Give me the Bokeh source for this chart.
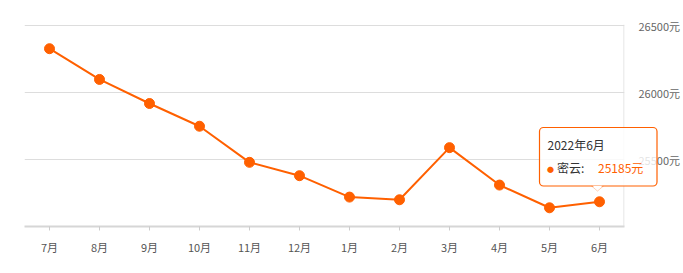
from bokeh.plotting import figure
from bokeh.layouts import column
from bokeh.models import (FactorRange, Range1d, FixedTicker, PrintfTickFormatter,
                          Span, PolyAnnotation, BoxAnnotation, Label)
from bokeh.embed import file_html
from bokeh.resources import INLINE

months = ["7月", "8月", "9月", "10月", "11月", "12月", "1月", "2月", "3月", "4月", "5月", "6月"]
prices = [26330, 26100, 25920, 25750, 25480, 25380, 25220, 25200, 25590, 25310, 25140, 25185]
y_ticks = [25500, 26000, 26500]
tip_title = "2022年6月"
tip_name = "密云:"
tip_value = "25185元"

ORANGE = "#ff6000"
FONT = "Noto Sans CJK SC"
W, H = 683, 273

p = figure(width=W, height=H, x_range=FactorRange(*months, range_padding=0),
           y_range=Range1d(25000, 26511), output_backend="svg", toolbar_location=None,
           y_axis_location="right", min_border_left=24, min_border_right=59,
           min_border_top=24, min_border_bottom=47)
p.frame_align = False
p.outline_line_color = None
p.background_fill_color = "white"

p.xgrid.grid_line_color = None
p.ygrid.ticker = FixedTicker(ticks=y_ticks)
p.ygrid.grid_line_color = "#dddddd"
p.ygrid.grid_line_width = 1

p.yaxis.ticker = FixedTicker(ticks=y_ticks)
p.yaxis.formatter = PrintfTickFormatter(format="%d元")
p.yaxis.axis_line_color = None
p.yaxis.major_tick_line_color = None
p.yaxis.minor_tick_line_color = None
p.yaxis.major_label_text_color = "#666666"
p.yaxis.major_label_text_font = FONT
p.yaxis.major_label_text_font_size = "11px"
p.yaxis.major_label_standoff = 8

p.xaxis.axis_line_color = "#d6d6d6"
p.xaxis.axis_line_width = 2
p.xaxis.major_tick_line_color = "#cccccc"
p.xaxis.major_tick_out = 4
p.xaxis.major_tick_in = 0
p.xaxis.major_label_text_color = "#555555"
p.xaxis.major_label_text_font = FONT
p.xaxis.major_label_text_font_size = "11px"
p.xaxis.major_label_standoff = 8

# right border
p.add_layout(Span(location=len(months) - 0.01, dimension="height", line_color="#dddddd", line_width=1))

p.line(months, prices, line_color=ORANGE, line_width=2)
p.scatter(months, prices, size=10, fill_color=ORANGE, line_color=ORANGE)

# tooltip: a transparent full-size overlay figure in pixel coordinates (y downwards)
tip = figure(width=W, height=H, x_range=Range1d(0, W), y_range=Range1d(H, 0), title=None,
             output_backend="svg", toolbar_location=None, x_axis_type=None, y_axis_type=None,
             min_border=0, margin=(-H, 0, 0, 0))
tip.frame_align = False
tip.outline_line_color = None
tip.background_fill_color = None
tip.border_fill_color = None
tip.xgrid.visible = False
tip.ygrid.visible = False

tip.add_layout(PolyAnnotation(xs=[591, 597, 603], ys=[185.5, 190.5, 185.5],
                              fill_color="white", fill_alpha=1, line_color=ORANGE, line_width=1))
tip.add_layout(BoxAnnotation(left=539, right=656.5, top=127, bottom=185.5,
                             fill_color="white", fill_alpha=0.82, line_color=ORANGE,
                             line_alpha=1, line_width=1.2, border_radius=4))
tip.add_layout(PolyAnnotation(xs=[592, 602, 597], ys=[185.2, 185.2, 189.5],
                              fill_color="white", fill_alpha=1, line_color=None))

def lab(text, x, y, color, size="12px"):
    tip.add_layout(Label(x=x, y=y, text=text, text_color=color,
                         text_font=FONT, text_font_size=size, text_baseline="middle",
                         text_align="left"))

lab(tip_title, 547, 144, "#333333")
lab("●", 546.5, 168, ORANGE, "7px")
lab(tip_name, 556.5, 167, "#333333")
lab(tip_value, 597.5, 167, ORANGE)

layout = column(p, tip, spacing=0)
open("out.html", "w").write(file_html(layout, INLINE))
